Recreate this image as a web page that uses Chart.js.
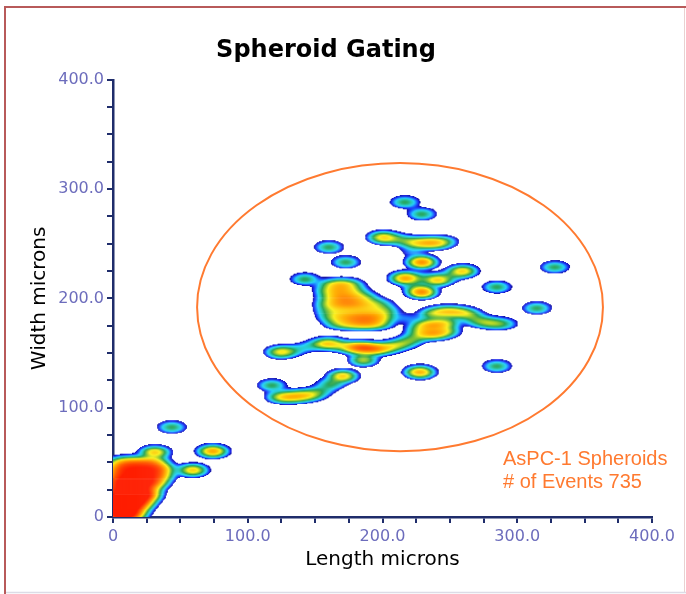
<!DOCTYPE html>
<html><head><meta charset="utf-8">
<script src="https://cdn.jsdelivr.net/npm/chart.js@4"></script>
<style>html,body{margin:0;padding:0;background:#fff;overflow:hidden}</style>
</head><body>
<canvas id="c" width="686" height="594"></canvas>
<script>
// ---- data: event positions (microns) and relative counts ----
// events inside the spheroid gate
const gateX = [
  216.7,229.3,160.3,172.9,142.5,285.0,328.0,314.7,
  200,208,216,224,232,240,247, 222, 229.3,
  216.7,241.2,259.7,229,251, 229.3,223,
  160,166,172,178, 158,164,170,176,182, 160,166,172,178,184,190,
  158,164,170,176,182,188,194,200, 158,164,170,176,182,188,194,200,205,
  160,166,172,178,184,190,196,202, 164,170,176,182,188,194,200,
  236,244,252,260,266, 232,240,248,232,240,248,226, 270,278,286,292, 218,
  180,186,192,198,204,210,216,222,224, 124,132,142,152,160,168,174, 186,
  227.8,285.0,170.7,162,155,118.0,124,132,140,148];
const gateY = [
  288.3,277.3,247.1,233.4,217.8,210.5,228.8,191.3,
  256,255,253,251,251,251,252, 243, 233.4,
  218.8,216.9,225.2,219,221, 206,212,
  213,213,213,213, 207,207,207,207,207, 201,201,201,201,201,201,
  195,195,195,195,195,195,195,195, 189,189,189,189,189,189,189,189,189,
  183,183,183,183,183,183,183,183, 177,177,177,177,177,177,177,
  186,188,188,187,185, 176,176,178,168,168,170,172, 180,178,177,177, 182,
  155,155,154,154,155,157,159,162,165, 151,152,155,158,159,157,156, 143.7,
  132.7,138.2,129.1,122,116,120.8,110,110,111,112];
const gateN = [
  1,1,1,1,1,1,1,1,
  1.7,0.6,0.6,1.0,1.3,1.4,0.6, 0.35, 2.8,
  2.4,1.9,1.9,0.5,0.5, 2.8,0.4,
  0.5,0.8,0.9,0.5, 0.5,0.7,0.8,0.6,0.4, 0.5,0.8,0.9,0.8,0.6,0.4,
  0.5,0.7,0.9,0.9,0.8,0.6,0.5,0.4, 0.4,0.45,0.45,0.45,0.5,0.5,0.5,0.45,0.4,
  0.45,0.55,0.75,0.85,0.95,0.95,0.85,0.6, 0.4,0.55,0.75,0.85,0.95,0.85,0.55,
  0.9,1.1,1.2,1.0,0.6, 1.2,1.4,1.0,1.2,1.5,1.0,0.6, 0.7,0.9,0.7,0.4, 0.35,
  1.5,1.7,1.5,1.0,0.8,0.7,0.7,0.6,0.4, 1.5,0.6,0.4,0.6,1.6,0.6,0.5, 1.4,
  2.4,1,2.0,0.9,0.6,1,1.2,1.3,1.3,1.0];
// debris near the origin (outside the gate)
const debrisX = [43.8,74.2,31.2,59.4,
  2,6,10,14, 2,7,12,17, 2,7,12,17,21, 2,7,12,17,21,25, 2,7,12,17,22,27,
  2,7,12,17,22,27,32, 2,7,12,17,22,27,32,36, 3,8,13,18,23,28,33,37, 4,9,14,19,24,29,33];
const debrisY = [82.4,60.4,59.5,43.0,
  2,2,2,2, 8,8,8,8, 14,14,14,14,14, 20,20,20,20,20,20, 26,26,26,26,26,26,
  32,32,32,32,32,32,32, 38,38,38,38,38,38,38,38, 44,44,44,44,44,44,44,44, 50,50,50,50,50,50,50];
const debrisN = [1,2.5,2,2,
  2,2,2,2, 2,2,2,2, 2,2,2,2,2, 2,2,2,2,2,2, 1.6,1.6,1.6,1.6,1.6,1.2,
  1.6,1.6,1.6,1.6,1.6,1.6,1.2, 1.2,1.2,1.2,1.2,1.2,1.2,1.2,0.9, 1.2,1.2,1.2,1.2,1.2,1.2,1.2,0.9, 0.8,0.9,0.9,0.9,0.9,0.9,0.8];

const tickValues = [0, 100, 200, 300, 400];
const xTickLabels = ['0', '100.0', '200.0', '300.0', '400.0'];
const yTickLabels = ['0', '100.0', '200.0', '300.0', '400.0'];
const gateCenter = [213, 192];
const gateRadii = [150.6, 131.8];
const gateLabelLines = ['AsPC-1 Spheroids', '# of Events 735'];
const gateLabelPos = [[289.4, 47.6], [289.4, 26.5]];

// ---- density rendering settings ----
const CELL_W = 0.75, CELL_H = 0.9, SX = 6.3, SY = 3.4, THRESH = 0.22, SAT = 5;
const stops = [
  [0.00, 24, 24, 160], [0.08, 30, 40, 240], [0.18, 30, 110, 255], [0.30, 40, 210, 250],
  [0.40, 40, 200, 180], [0.49, 40, 165, 90], [0.58, 140, 200, 50], [0.66, 250, 240, 30],
  [0.78, 255, 170, 0], [0.90, 255, 90, 0], [1.00, 255, 30, 0]];
function colormap(v) {
  v = Math.max(0, Math.min(1, v));
  for (let i = 1; i < stops.length; i++) {
    if (v <= stops[i][0]) {
      const a = stops[i - 1], b = stops[i], t = (v - a[0]) / (b[0] - a[0]);
      return 'rgb(' + Math.round(a[1] + (b[1] - a[1]) * t) + ',' + Math.round(a[2] + (b[2] - a[2]) * t) + ',' + Math.round(a[3] + (b[3] - a[3]) * t) + ')';
    }
  }
  return 'rgb(255,30,0)';
}

const allX = gateX.concat(debrisX), allY = gateY.concat(debrisY), allN = gateN.concat(debrisN);
const NX = Math.ceil(400 / CELL_W), NY = Math.ceil(400 / CELL_H);
const grid = new Float32Array(NX * NY);
for (let k = 0; k < allX.length; k++) {
  const ex = allX[k], ey = allY[k], n = allN[k];
  const i0 = Math.max(0, Math.floor((ex - 4 * SX) / CELL_W)), i1 = Math.min(NX - 1, Math.ceil((ex + 4 * SX) / CELL_W));
  const j0 = Math.max(0, Math.floor((ey - 4 * SY) / CELL_H)), j1 = Math.min(NY - 1, Math.ceil((ey + 4 * SY) / CELL_H));
  for (let j = j0; j <= j1; j++) {
    const dy = (j + 0.5) * CELL_H - ey;
    for (let i = i0; i <= i1; i++) {
      const dx = (i + 0.5) * CELL_W - ex;
      grid[j * NX + i] += n * Math.exp(-(dx * dx / (2 * SX * SX) + dy * dy / (2 * SY * SY)));
    }
  }
}
const cells = [], cellColors = [];
const LOGR = Math.log(SAT / THRESH);
for (let j = 0; j < NY; j++) for (let i = 0; i < NX; i++) {
  const d = grid[j * NX + i];
  if (d >= THRESH) {
    cells.push({x: (i + 0.5) * CELL_W, y: (j + 0.5) * CELL_H});
    cellColors.push(colormap(Math.log(d / THRESH) / LOGR));
  }
}

const NAVY = '#1f2d6b', TICKC = '#6c6cbc', ORANGE = '#ff7a30';
const framePlugin = {
  id: 'frame',
  beforeDraw(chart) {
    const c = chart.ctx; c.save(); c.fillStyle = '#fff'; c.fillRect(0, 0, chart.width, chart.height); c.restore();
  },
  afterDraw(chart) {
    const c = chart.ctx; c.save();
    c.strokeStyle = '#b85a5a'; c.lineWidth = 2;
    c.beginPath(); c.moveTo(4, 7); c.lineTo(686, 7); c.moveTo(5, 7); c.lineTo(5, 594); c.stroke();
    c.strokeStyle = '#ead0d0'; c.lineWidth = 1;
    c.beginPath(); c.moveTo(684.5, 8); c.lineTo(684.5, 592); c.stroke();
    c.strokeStyle = '#dcdce6'; c.lineWidth = 1.5;
    c.beginPath(); c.moveTo(6, 592.5); c.lineTo(686, 592.5); c.stroke();
    c.restore();
  }
};
const gatePlugin = {
  id: 'gate',
  afterDatasetsDraw(chart) {
    const {x, y} = chart.scales, c = chart.ctx;
    const cx = x.getPixelForValue(gateCenter[0]), cy = y.getPixelForValue(gateCenter[1]);
    const rx = x.getPixelForValue(gateCenter[0] + gateRadii[0]) - cx;
    const ry = cy - y.getPixelForValue(gateCenter[1] + gateRadii[1]);
    c.save();
    c.strokeStyle = ORANGE; c.lineWidth = 2;
    c.beginPath(); c.ellipse(cx, cy, rx, ry, 0, 0, Math.PI * 2); c.stroke();
    c.fillStyle = ORANGE; c.font = '20px "Liberation Sans", Arial, sans-serif';
    c.textAlign = 'left'; c.textBaseline = 'alphabetic';
    gateLabelLines.forEach((t, i) => c.fillText(t, x.getPixelForValue(gateLabelPos[i][0]), y.getPixelForValue(gateLabelPos[i][1])));
    c.restore();
  }
};

function tickCb(labels) {
  return function (v) { const k = tickValues.indexOf(v); return k >= 0 ? labels[k] : ''; };
}
function cellRadius(ctx) {
  const s = ctx.chart.scales;
  if (!s || !s.x || !s.y || !ctx.chart.chartArea) return 1.2;
  const w = Math.abs(s.x.getPixelForValue(CELL_W) - s.x.getPixelForValue(0));
  const h = Math.abs(s.y.getPixelForValue(CELL_H) - s.y.getPixelForValue(0));
  const r = (Math.max(w, h) + 0.45) / Math.SQRT2;
  return isFinite(r) && r > 0 ? r : 1.2;
}

new Chart(document.getElementById('c'), {
  type: 'scatter',
  data: { datasets: [{
    label: 'density',
    data: cells,
    backgroundColor: cellColors,
    borderWidth: 0,
    pointStyle: 'rect',
    pointRadius: cellRadius,
    pointHoverRadius: 0
  }]},
  options: {
    responsive: false, animation: false, devicePixelRatio: 1,
    events: [],
    layout: { padding: { left: 0, right: 34, top: 0, bottom: 0 } },
    plugins: {
      legend: { display: false }, tooltip: { enabled: false },
      title: { display: true, text: 'Spheroid Gating', color: '#000',
        font: { family: '"DejaVu Sans", Verdana, sans-serif', size: 24, weight: 'bold' },
        padding: { top: 36, bottom: 15 } }
    },
    scales: {
      x: { type: 'linear', min: 0, max: 400,
        afterFit(s) { s.height = 77; },
        ticks: { stepSize: 25, autoSkip: false, maxRotation: 0, color: TICKC, padding: 4,
          font: { family: '"DejaVu Sans", Verdana, sans-serif', size: 16 }, callback: tickCb(xTickLabels) },
        grid: { drawOnChartArea: false, drawTicks: true, tickLength: 6, color: NAVY, lineWidth: 2 },
        border: { display: true, color: NAVY, width: 2.5 },
        title: { display: true, text: 'Length microns', color: '#000',
          font: { family: '"DejaVu Sans", Verdana, sans-serif', size: 20 }, padding: { top: 0, bottom: 22 } } },
      y: { type: 'linear', min: 0, max: 400,
        afterFit(s) { s.width = 113; },
        ticks: { stepSize: 25, autoSkip: false, color: TICKC, padding: 3,
          font: { family: '"DejaVu Sans", Verdana, sans-serif', size: 16 }, callback: tickCb(yTickLabels) },
        grid: { drawOnChartArea: false, drawTicks: true, tickLength: 6, color: NAVY, lineWidth: 2 },
        border: { display: true, color: NAVY, width: 2.5 },
        title: { display: true, text: 'Width microns', color: '#000',
          font: { family: '"DejaVu Sans", Verdana, sans-serif', size: 20 }, padding: { top: 28, bottom: 0 } } }
    }
  },
  plugins: [framePlugin, gatePlugin]
});
</script>
</body></html>
